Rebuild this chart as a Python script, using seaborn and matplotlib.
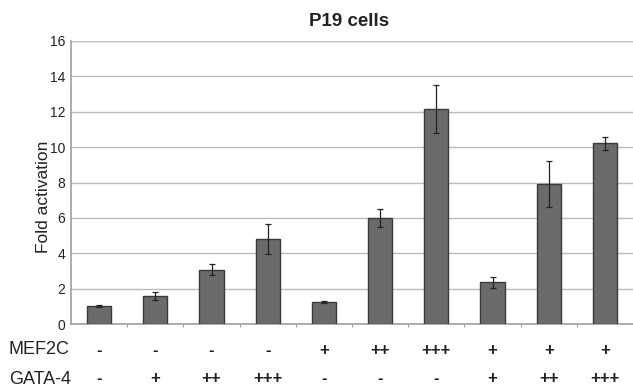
import matplotlib
matplotlib.use("Agg")
import matplotlib.pyplot as plt
from matplotlib.transforms import blended_transform_factory
import seaborn as sns
import pandas as pd

# ---- data ----
mef2c = ["-", "-", "-", "-", "+", "++", "+++", "+", "+", "+"]
gata4 = ["-", "+", "++", "+++", "-", "-", "-", "+", "++", "+++"]
fold = [1.02, 1.58, 3.07, 4.78, 1.24, 6.0, 12.15, 2.35, 7.9, 10.22]
err = [0.08, 0.25, 0.32, 0.85, 0.07, 0.52, 1.35, 0.33, 1.3, 0.36]
yticks = [0, 2, 4, 6, 8, 10, 12, 14, 16]

conditions = [f"M{m}/G{g}" for m, g in zip(mef2c, gata4)]
df = pd.DataFrame({"condition": conditions, "fold": fold, "err": err})

sns.set_theme(style="white")
plt.rcParams["font.family"] = ["Liberation Sans", "DejaVu Sans"]

W, H = 633, 389
fig = plt.figure(figsize=(W / 100, H / 100), dpi=100)
ax = fig.add_axes([71 / W, (H - 324) / H, 562 / W, 283 / H])

sns.barplot(data=df, x="condition", y="fold", order=conditions,
            color="#6b6b6b", edgecolor="#3a3a3a", linewidth=1.0,
            width=0.43, errorbar=None, ax=ax, saturation=1, zorder=3)
ax.errorbar(range(len(conditions)), df["fold"], yerr=df["err"], fmt="none",
            ecolor="#222222", elinewidth=0.9, capsize=2, capthick=0.9, zorder=4)

ax.set_xlim(-0.5, len(conditions) - 0.5)
ax.set_ylim(0, 16)
ax.set_yticks(yticks)
ax.set_yticklabels([str(t) for t in yticks], fontsize=10, color="#222222")
ax.yaxis.grid(True, color="#bcbcbc", linewidth=1.0, zorder=0)
ax.set_axisbelow(True)
ax.set_xticks([i + 0.5 for i in range(len(conditions) - 1)])
ax.set_xticklabels([])
ax.tick_params(axis="x", direction="out", length=2, color="#a0a0a0", width=0.8, bottom=True)
ax.tick_params(axis="y", length=0, pad=4)
ax.set_xlabel("")
ax.set_ylabel("")
for s in ["top", "right"]:
    ax.spines[s].set_visible(False)
for s in ["left", "bottom"]:
    ax.spines[s].set_color("#a0a0a0")
    ax.spines[s].set_linewidth(1.2)

fig.text(349 / W, 1 - 22 / H, "P19 cells", ha="center", va="center",
         fontsize=13.5, fontweight="bold", color="#222222")
fig.text(43 / W, 1 - 197 / H, "Fold activation", ha="center", va="center",
         rotation=90, fontsize=12.5, color="#222222")

trans = blended_transform_factory(ax.transData, fig.transFigure)
rows = [("MEF2C", mef2c, 350), ("GATA-4", gata4, 379)]
for label, signs, ypx in rows:
    fig.text(9 / W, 1 - ypx / H, label, ha="left", va="center",
             fontsize=13, color="#222222")
    for i, s in enumerate(signs):
        ax.text(i, 1 - ypx / H, s, transform=trans, ha="center", va="center",
                fontsize=12, fontweight="bold", color="#222222")

fig.savefig("out.png", dpi=100, facecolor="white")
